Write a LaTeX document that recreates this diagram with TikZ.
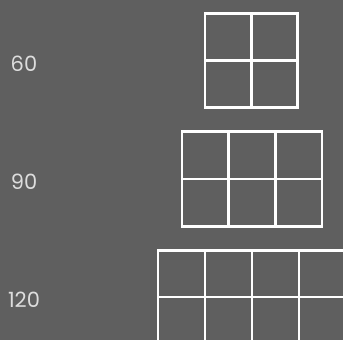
\documentclass[tikz,border=0pt]{standalone}
\usepackage{fontspec}
\setmainfont{Poppins}
\definecolor{bg}{HTML}{5F5F5F}
\definecolor{lbl}{HTML}{DDDDDD}
\begin{document}
\begin{tikzpicture}[x=1pt,y=-1pt,
  gridline/.style={draw=white,line width=2.6pt},
  lab/.style={text=lbl,font=\fontsize{21}{21}\selectfont,inner sep=0pt,anchor=center}]
\fill[bg] (0,0) rectangle (343,340);
\useasboundingbox (0,0) rectangle (343,340);
\begin{scope}
\clip (0,0) rectangle (343,340);
% grid 60: 2x2
\draw[gridline] (205,13.5) rectangle (297.6,107.5);
\draw[gridline] (205,60.5) -- (297.6,60.5);
\draw[gridline] (251.3,13.5) -- (251.3,107.5);
% grid 90: 3x2
\draw[gridline] (182,131.5) rectangle (322.1,226.5);
\draw[gridline] (182,179) -- (322.1,179);
\foreach \x in {228.7,275.4} \draw[gridline] (\x,131.5) -- (\x,226.5);
% grid 120: 4x2
\draw[gridline] (158,250.5) rectangle (346,343.5);
\draw[gridline] (158,297) -- (346,297);
\foreach \x in {205,252,299} \draw[gridline] (\x,250.5) -- (\x,343.5);
\end{scope}
\node[lab] (l60) at (24,64) {60};
\node[lab] (l90) at (24,182) {90};
\node[lab] (l120) at (24,300) {120};
\end{tikzpicture}
\end{document}
